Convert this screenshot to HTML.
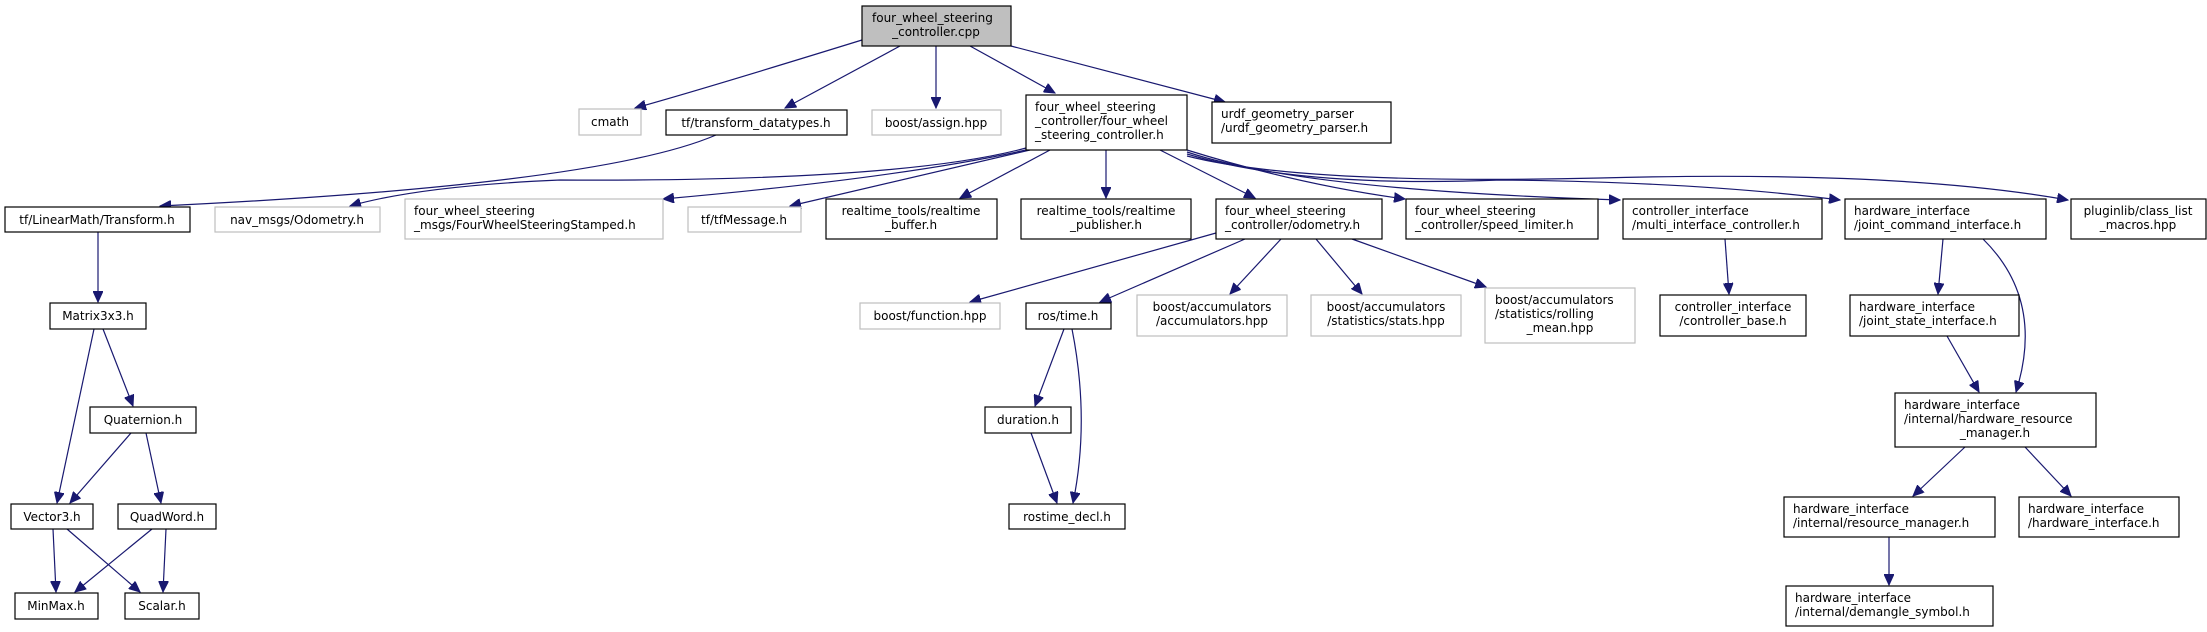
<!DOCTYPE html>
<html><head><meta charset="utf-8"><style>
html,body{margin:0;padding:0;background:#fff;}
svg{display:block;}
text{font-family:"DejaVu Sans","Liberation Sans",sans-serif;font-size:12px;fill:#000;}
.b{fill:#fff;stroke:#000;stroke-width:1.2;}
.g{fill:#fff;stroke:#bfbfbf;stroke-width:1.2;}
.e{fill:none;stroke:#191970;stroke-width:1.2;}
</style></head><body>
<svg width="2207" height="632" viewBox="0 0 2207 632" xmlns="http://www.w3.org/2000/svg">
<defs><marker id="a" markerUnits="userSpaceOnUse" markerWidth="12" markerHeight="10" refX="11" refY="5" orient="auto"><path d="M0,0 L11,5 L0,10 Z" fill="#191970" stroke="#191970"/></marker></defs>
<g class="e" marker-end="url(#a)">
<path d="M862,40 Q700,90 635,108"/>
<path d="M900,46 L785,108"/>
<path d="M936,46 L936,108"/>
<path d="M970,46 L1055,93"/>
<path d="M1011,46 L1225,102"/>
<path d="M716,135 Q600,185 160,206"/>
<path d="M98,232 L98,302"/>
<path d="M94,329 L57,503"/>
<path d="M103,329 L133,406"/>
<path d="M131,433 L70,503"/>
<path d="M146,433 L161,503"/>
<path d="M53,529 L56,592"/>
<path d="M67,529 L140,592"/>
<path d="M152,529 L75,592"/>
<path d="M166,529 L163,592"/>
<path d="M1026,148 Q900,182 560,180 Q420,186 350,206"/>
<path d="M1026,150 Q900,178 663,199"/>
<path d="M1030,150 L790,206"/>
<path d="M1050,150 L960,198"/>
<path d="M1106,150 L1106,198"/>
<path d="M1160,150 L1255,198"/>
<path d="M1187,150 Q1300,185 1405,199"/>
<path d="M1187,152 Q1300,190 1620,200"/>
<path d="M1187,154 Q1300,188 1500,180 Q1700,182 1840,200"/>
<path d="M1187,156 Q1300,185 1600,178 Q1900,170 2068,200"/>
<path d="M1216,233 L970,302"/>
<path d="M1245,239 L1100,302"/>
<path d="M1281,239 L1230,294"/>
<path d="M1316,239 L1362,294"/>
<path d="M1352,239 L1486,287"/>
<path d="M1064,329 L1035,406"/>
<path d="M1072,329 Q1090,420 1073,503"/>
<path d="M1031,433 L1057,503"/>
<path d="M1725,239 L1729,294"/>
<path d="M1943,239 L1938,294"/>
<path d="M1983,239 Q2045,300 2016,392"/>
<path d="M1947,336 L1979,392"/>
<path d="M1965,447 L1913,496"/>
<path d="M2025,447 L2071,496"/>
<path d="M1889,537 L1889,585"/>
</g>

<rect x="862" y="6" width="149" height="40" fill="#bfbfbf" stroke="#000" stroke-width="1.2"/>
<text x="872" y="22">four_wheel_steering</text><text x="936" y="36" text-anchor="middle">_controller.cpp</text>

<rect class="g" x="579" y="109" width="62" height="26"/><text x="610" y="126" text-anchor="middle">cmath</text>
<rect class="b" x="666" y="110" width="181" height="25"/><text x="756" y="127" text-anchor="middle">tf/transform_datatypes.h</text>
<rect class="g" x="872" y="110" width="129" height="25"/><text x="936" y="127" text-anchor="middle">boost/assign.hpp</text>
<rect class="b" x="1026" y="95" width="161" height="55"/>
<text x="1035" y="111">four_wheel_steering</text><text x="1035" y="125">_controller/four_wheel</text><text x="1035" y="139">_steering_controller.h</text>
<rect class="b" x="1212" y="102" width="179" height="41"/>
<text x="1221" y="118">urdf_geometry_parser</text><text x="1221" y="132">/urdf_geometry_parser.h</text>

<rect class="b" x="5" y="207" width="185" height="25"/><text x="97" y="224" text-anchor="middle">tf/LinearMath/Transform.h</text>
<rect class="g" x="215" y="207" width="165" height="25"/><text x="297" y="224" text-anchor="middle">nav_msgs/Odometry.h</text>
<rect class="g" x="405" y="199" width="258" height="40"/><text x="414" y="215">four_wheel_steering</text><text x="414" y="229">_msgs/FourWheelSteeringStamped.h</text>
<rect class="g" x="688" y="207" width="113" height="25"/><text x="744" y="224" text-anchor="middle">tf/tfMessage.h</text>
<rect class="b" x="826" y="199" width="171" height="40"/><text x="911" y="215" text-anchor="middle">realtime_tools/realtime</text><text x="911" y="229" text-anchor="middle">_buffer.h</text>
<rect class="b" x="1021" y="199" width="170" height="40"/><text x="1106" y="215" text-anchor="middle">realtime_tools/realtime</text><text x="1106" y="229" text-anchor="middle">_publisher.h</text>
<rect class="b" x="1216" y="199" width="166" height="40"/><text x="1225" y="215">four_wheel_steering</text><text x="1225" y="229">_controller/odometry.h</text>
<rect class="b" x="1406" y="199" width="192" height="40"/><text x="1415" y="215">four_wheel_steering</text><text x="1415" y="229">_controller/speed_limiter.h</text>
<rect class="b" x="1623" y="199" width="199" height="40"/><text x="1632" y="215">controller_interface</text><text x="1632" y="229">/multi_interface_controller.h</text>
<rect class="b" x="1845" y="199" width="201" height="40"/><text x="1854" y="215">hardware_interface</text><text x="1854" y="229">/joint_command_interface.h</text>
<rect class="b" x="2071" y="199" width="135" height="40"/><text x="2138" y="215" text-anchor="middle">pluginlib/class_list</text><text x="2138" y="229" text-anchor="middle">_macros.hpp</text>

<rect class="b" x="50" y="303" width="96" height="26"/><text x="98" y="320" text-anchor="middle">Matrix3x3.h</text>
<rect class="g" x="860" y="303" width="140" height="26"/><text x="930" y="320" text-anchor="middle">boost/function.hpp</text>
<rect class="b" x="1026" y="303" width="85" height="26"/><text x="1068" y="320" text-anchor="middle">ros/time.h</text>
<rect class="g" x="1137" y="295" width="150" height="41"/><text x="1212" y="311" text-anchor="middle">boost/accumulators</text><text x="1212" y="325" text-anchor="middle">/accumulators.hpp</text>
<rect class="g" x="1311" y="295" width="150" height="41"/><text x="1386" y="311" text-anchor="middle">boost/accumulators</text><text x="1386" y="325" text-anchor="middle">/statistics/stats.hpp</text>
<rect class="g" x="1485" y="288" width="150" height="55"/><text x="1495" y="304">boost/accumulators</text><text x="1495" y="318">/statistics/rolling</text><text x="1560" y="332" text-anchor="middle">_mean.hpp</text>
<rect class="b" x="1660" y="295" width="146" height="41"/><text x="1733" y="311" text-anchor="middle">controller_interface</text><text x="1733" y="325" text-anchor="middle">/controller_base.h</text>
<rect class="b" x="1850" y="295" width="169" height="41"/><text x="1859" y="311">hardware_interface</text><text x="1859" y="325">/joint_state_interface.h</text>

<rect class="b" x="90" y="407" width="106" height="26"/><text x="143" y="424" text-anchor="middle">Quaternion.h</text>
<rect class="b" x="985" y="407" width="86" height="26"/><text x="1028" y="424" text-anchor="middle">duration.h</text>
<rect class="b" x="1895" y="393" width="201" height="54"/><text x="1904" y="409">hardware_interface</text><text x="1904" y="423">/internal/hardware_resource</text><text x="1995" y="437" text-anchor="middle">_manager.h</text>

<rect class="b" x="11" y="504" width="82" height="25"/><text x="52" y="521" text-anchor="middle">Vector3.h</text>
<rect class="b" x="118" y="504" width="98" height="25"/><text x="167" y="521" text-anchor="middle">QuadWord.h</text>
<rect class="b" x="1009" y="504" width="116" height="25"/><text x="1067" y="521" text-anchor="middle">rostime_decl.h</text>
<rect class="b" x="1784" y="497" width="211" height="40"/><text x="1793" y="513">hardware_interface</text><text x="1793" y="527">/internal/resource_manager.h</text>
<rect class="b" x="2019" y="497" width="160" height="40"/><text x="2028" y="513">hardware_interface</text><text x="2028" y="527">/hardware_interface.h</text>

<rect class="b" x="15" y="593" width="83" height="26"/><text x="56" y="610" text-anchor="middle">MinMax.h</text>
<rect class="b" x="125" y="593" width="74" height="26"/><text x="162" y="610" text-anchor="middle">Scalar.h</text>
<rect class="b" x="1786" y="586" width="207" height="40"/><text x="1795" y="602">hardware_interface</text><text x="1795" y="616">/internal/demangle_symbol.h</text>
</svg>
</body></html>
